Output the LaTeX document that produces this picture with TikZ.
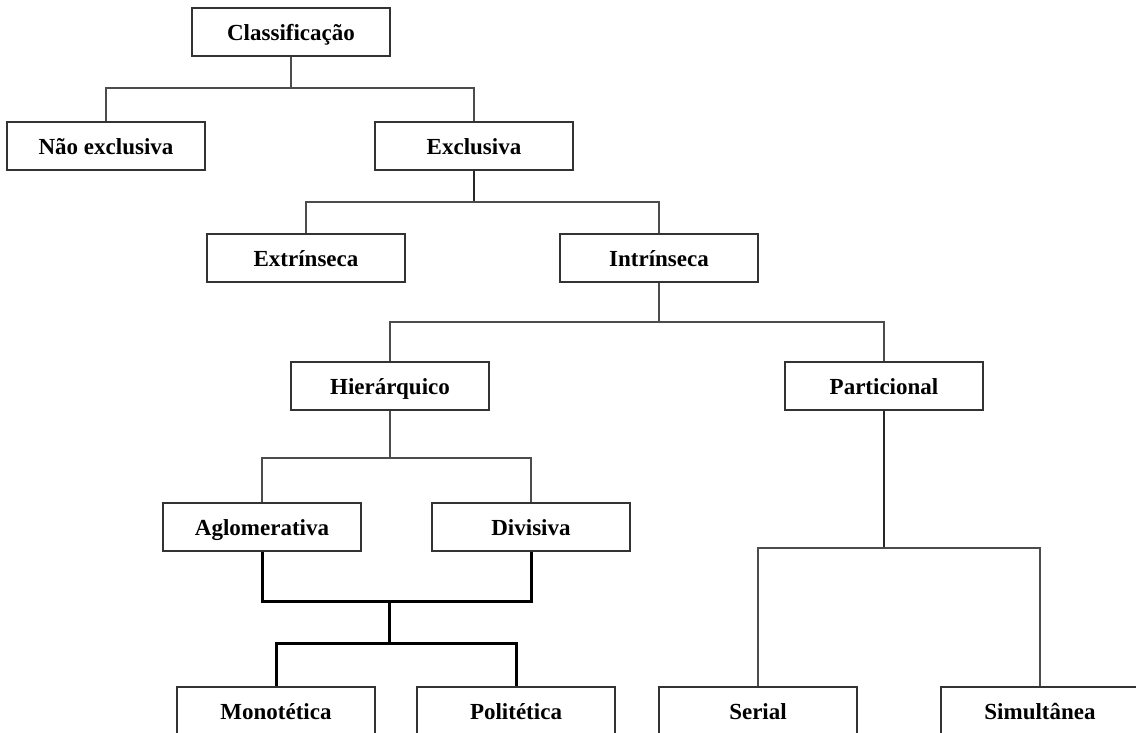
\documentclass[tikz,border=0pt]{standalone}
\usepackage{fontspec}
\setmainfont{Liberation Serif}
\begin{document}
\begin{tikzpicture}[x=1pt,y=-1pt]
\tikzset{
  box/.style={draw=black!80, line width=1.3pt, minimum width=198pt, minimum height=48pt, inner sep=0pt,
    text height=17pt, text depth=0pt,
    font=\fontsize{23}{26}\selectfont\bfseries},
  conn/.style={draw=black!70, line width=1.4pt},
  thk/.style={draw=black, line width=3pt, line join=miter}
}
\useasboundingbox[fill=white] (0,0) rectangle (1136,733);
% nodes
\node[box] (cl) at (291,32) {Classificação};
\node[box] (ne) at (106,146) {Não exclusiva};
\node[box] (ex) at (474,146) {Exclusiva};
\node[box] (et) at (306,258) {Extrínseca};
\node[box] (it) at (659,258) {Intrínseca};
\node[box] (hi) at (390,386) {Hierárquico};
\node[box] (pa) at (884,386) {Particional};
\node[box] (ag) at (262,527) {Aglomerativa};
\node[box] (dv) at (531,527) {Divisiva};
\node[box] (mo) at (276,711) {Monotética};
\node[box] (po) at (516,711) {Politética};
\node[box] (se) at (758,711) {Serial};
\node[box] (si) at (1040,711) {Simultânea};
% junctions
\coordinate (j1) at (291,88);
\coordinate (j2) at (474,202);
\coordinate (j3) at (659,322);
\coordinate (j4) at (390,458);
\coordinate (j6) at (884,548);
\coordinate (j5a) at (389,601);
\coordinate (j5b) at (389,643);
% connectors
\draw[conn] (cl.south) -- (j1);
\draw[conn] (ne.north) |- (j1) -| (ex.north);
\draw[conn, line width=2pt, draw=black!85] (ex.south) -- (j2);
\draw[conn] (et.north) |- (j2) -| (it.north);
\draw[conn] (it.south) -- (j3);
\draw[conn] (hi.north) |- (j3) -| (pa.north);
\draw[conn] (hi.south) -- (j4);
\draw[conn] (ag.north) |- (j4) -| (dv.north);
\draw[conn, line width=1.8pt, draw=black!85] (pa.south) -- (j6);
\draw[conn] (se.north) |- (j6) -| (si.north);
\draw[thk] (ag.south) |- (j5a) -| (dv.south);
\draw[thk] (j5a) -- (j5b);
\draw[thk] (mo.north) |- (j5b) -| (po.north);
\end{tikzpicture}
\end{document}
